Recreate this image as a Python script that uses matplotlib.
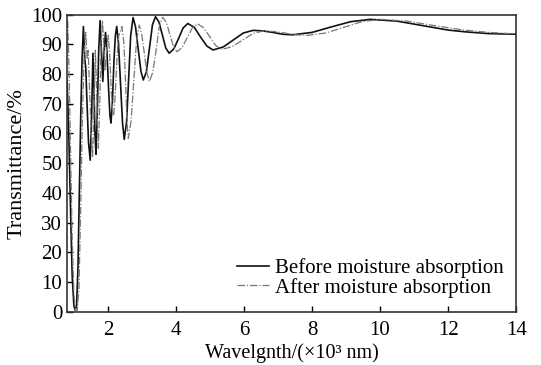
"""Transmittance spectra before and after moisture absorption."""

import matplotlib

matplotlib.use("Agg")
import matplotlib.pyplot as plt

# wavelength (x10^3 nm) and transmittance (%)
before_x = [
    0.80, 0.85, 0.90, 0.95, 1.00, 1.04, 1.08, 1.12, 1.16, 1.20, 1.24, 1.28,
    1.32, 1.35, 1.38, 1.43, 1.48, 1.52, 1.56, 1.59, 1.62, 1.65, 1.69, 1.73,
    1.77, 1.81, 1.85, 1.89, 1.93, 1.97, 2.02, 2.06, 2.09, 2.13, 2.18, 2.22,
    2.26, 2.31, 2.37, 2.43, 2.48, 2.55, 2.61, 2.67, 2.74, 2.81, 2.89, 2.97,
    3.04, 3.13, 3.22, 3.31, 3.40, 3.50, 3.60, 3.70, 3.80, 3.94, 4.08, 4.21,
    4.35, 4.54, 4.72, 4.91, 5.09, 5.39, 5.68, 5.98, 6.27, 6.56, 6.85, 7.13,
    7.42, 8.00, 8.55, 9.13, 9.71, 10.50, 11.30, 12.00, 12.50, 13.20, 14.00,
]
before_y = [
    78.0, 60.0, 35.0, 12.0, 2.0, 0.5, 2.0, 15.0, 40.0, 65.0, 85.0, 96.0,
    85.0, 82.0, 72.0, 57.0, 51.0, 65.0, 87.0, 75.0, 60.0, 53.0, 68.0, 88.0,
    98.0, 88.0, 77.5, 88.0, 94.0, 88.0, 75.0, 66.0, 63.5, 70.0, 85.0, 93.0,
    96.0, 90.5, 77.0, 63.5, 58.0, 64.0, 78.5, 93.0, 99.0, 96.0, 88.5, 81.0,
    78.0, 80.7, 88.6, 96.6, 99.3, 97.5, 93.2, 88.8, 87.0, 88.5, 92.0, 95.5,
    97.0, 95.7, 92.5, 89.4, 88.1, 89.1, 91.4, 93.8, 94.7, 94.5, 94.0, 93.4,
    93.2, 94.0, 95.8, 97.6, 98.4, 97.8, 96.2, 94.8, 94.2, 93.6, 93.4,
]

after_x = [
    0.82, 0.86, 0.90, 0.95, 1.00, 1.05, 1.10, 1.15, 1.20, 1.25, 1.30, 1.35,
    1.39, 1.42, 1.46, 1.51, 1.55, 1.59, 1.63, 1.66, 1.69, 1.72, 1.76, 1.80,
    1.84, 1.88, 1.92, 1.96, 2.01, 2.05, 2.10, 2.14, 2.17, 2.21, 2.27, 2.32,
    2.36, 2.41, 2.47, 2.52, 2.56, 2.60, 2.68, 2.76, 2.84, 2.92, 2.99, 3.07,
    3.15, 3.22, 3.32, 3.42, 3.51, 3.61, 3.72, 3.82, 3.93, 4.03, 4.18, 4.33,
    4.48, 4.63, 4.81, 4.99, 5.17, 5.35, 5.65, 5.96, 6.26, 6.56, 6.90, 7.20,
    7.50, 7.86, 8.40, 8.93, 9.46, 10.00, 10.80, 11.60, 12.45, 13.20, 14.00,
]
after_y = [
    98.0, 80.0, 55.0, 25.0, 6.0, 0.5, 0.5, 8.0, 35.0, 65.0, 86.0, 94.0,
    85.0, 88.0, 75.0, 60.0, 52.0, 68.0, 88.0, 78.0, 63.0, 55.0, 70.0, 90.0,
    98.0, 90.0, 81.0, 88.0, 93.0, 87.0, 74.0, 67.0, 66.0, 72.0, 86.0, 93.0,
    94.0, 96.0, 90.5, 77.0, 64.0, 58.3, 64.0, 77.5, 91.0, 96.5, 93.7, 87.0,
    80.3, 77.5, 80.6, 88.3, 96.0, 99.1, 97.4, 93.3, 89.2, 87.5, 88.9, 92.2,
    95.5, 96.9, 95.6, 92.6, 89.6, 88.3, 89.2, 91.4, 93.6, 94.5, 94.3, 93.8,
    93.2, 93.0, 93.8, 95.7, 97.6, 98.4, 97.8, 96.3, 94.8, 94.0, 93.5,
]

x_ticks = [2, 4, 6, 8, 10, 12, 14]
y_ticks = [0, 10, 20, 30, 40, 50, 60, 70, 80, 90, 100]


def main() -> None:
    plt.rcParams["font.family"] = ["Liberation Serif", "DejaVu Serif"]
    plt.rcParams["font.size"] = 15

    fig = plt.figure(figsize=(5.41, 3.65), dpi=100)
    ax = fig.add_axes([0.124, 0.146, 0.830, 0.814])

    ax.plot(before_x, before_y, color="#111111", linewidth=1.2,
            label="Before moisture absorption")
    ax.plot(after_x, after_y, color="#777777", linewidth=0.9,
            linestyle=(0, (6, 1.5, 1, 1.5)), label="After moisture absorption")

    ax.set_xlim(0.8, 14)
    ax.set_ylim(0, 100)
    ax.set_xticks(x_ticks)
    ax.set_yticks(y_ticks)
    ax.tick_params(axis="x", pad=7)
    ax.tick_params(direction="in", length=4, width=1.0,
                   top=False, right=False, labelsize=15)
    for spine in ax.spines.values():
        spine.set_linewidth(1.2)
        spine.set_color("#333333")

    ax.set_xlabel("Wavelgnth/(×10³ nm)", fontsize=14.5, labelpad=2)
    ax.set_ylabel("Transmittance/%", fontsize=16, labelpad=3)

    ax.legend(loc="lower right", bbox_to_anchor=(1.0, 0.005), frameon=False,
              fontsize=15, handlelength=1.5, handletextpad=0.3,
              labelspacing=0.0, borderaxespad=0.2)

    fig.savefig("out.png", dpi=100)
    plt.close(fig)


if __name__ == "__main__":
    main()
